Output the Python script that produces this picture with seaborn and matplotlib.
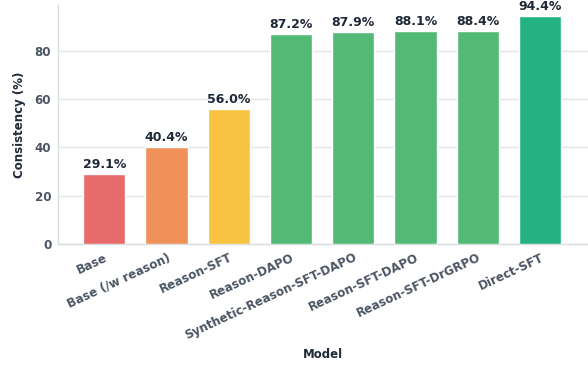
import matplotlib
matplotlib.use("Agg")
import matplotlib.pyplot as plt
import seaborn as sns
import pandas as pd

models = ["Base", "Base (/w reason)", "Reason-SFT", "Reason-DAPO",
          "Synthetic-Reason-SFT-DAPO", "Reason-SFT-DAPO", "Reason-SFT-DrGRPO", "Direct-SFT"]
consistency = [29.1, 40.4, 56.0, 87.2, 87.9, 88.1, 88.4, 94.4]
colors = ["#E86B6B", "#F0915A", "#F8C340", "#52BA74", "#52BA74", "#52BA74", "#52BA74", "#24B283"]

df = pd.DataFrame({"Model": models, "Consistency": consistency})

sns.set_theme(style="white")
plt.rcParams["font.family"] = ["DejaVu Sans"]

fig = plt.figure(figsize=(5.88, 3.67), dpi=100)
ax = fig.add_axes([0.099, 0.335, 0.901, 0.652])

sns.barplot(data=df, x="Model", y="Consistency", hue="Model", palette=colors,
            saturation=1, legend=False, width=0.68, edgecolor="white",
            linewidth=1.0, ax=ax, zorder=3)

for i, v in enumerate(consistency):
    ax.text(i, v + 1.2, f"{v:.1f}%", ha="center", va="bottom",
            fontsize=9, fontweight="bold", color="#1F2937", zorder=4)

ax.set_ylim(0, 99.1)
ax.set_xlim(-0.74, 7.77)
ax.set_yticks([0, 20, 40, 60, 80])
ax.yaxis.grid(True, color="#E2E5EA", linewidth=1.0, zorder=0)
ax.set_axisbelow(True)

for side in ["top", "right"]:
    ax.spines[side].set_visible(False)
for side in ["left", "bottom"]:
    ax.spines[side].set_color("#D9DCE1")
    ax.spines[side].set_linewidth(1.0)

ax.tick_params(axis="both", which="both", length=3, width=0.8, color="#9CA3AF",
               labelsize=8.6, labelcolor="#4B5563", pad=2)
ax.set_xticks(range(len(models)))
ax.set_xticklabels(models, rotation=25, ha="right", rotation_mode="anchor",
                   fontweight="bold")
for lbl in ax.get_yticklabels():
    lbl.set_fontweight("bold")

ax.set_xlabel("Model", fontsize=8.5, fontweight="bold", color="#1F2937", labelpad=4)
ax.set_ylabel("Consistency (%)", fontsize=8.5, fontweight="bold", color="#1F2937", labelpad=6)

fig.savefig("out.png", dpi=100)
